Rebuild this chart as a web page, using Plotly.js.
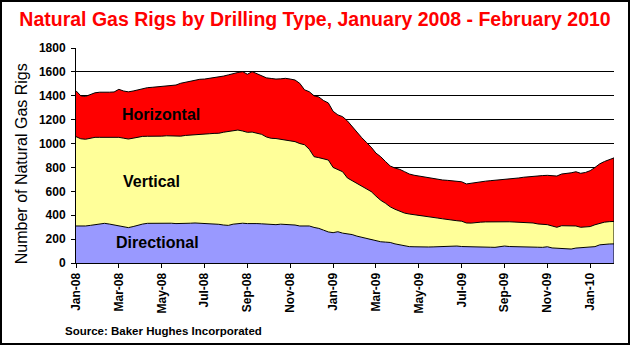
<!DOCTYPE html>
<html>
<head>
<meta charset="utf-8">
<script src="https://cdn.plot.ly/plotly-3.0.1.min.js"></script>
<style>
  html, body { margin: 0; padding: 0; background: #fff; }
  #wrap { position: relative; width: 630px; height: 346px; }
  #chart { position: absolute; left: 0; top: 0; width: 630px; height: 346px; }
  #frame { position: absolute; left: 0; top: 0; width: 630px; height: 345px; box-sizing: border-box; border: 2px solid #000; pointer-events: none; }
</style>
</head>
<body>
<div id="wrap"><div id="chart"></div><div id="frame"></div></div>
<script>
// Weekly rig counts (Baker Hughes), first week Jan 4, 2008
const startDate = "2008-01-04";
const directional = [310,308,310,315,322,330,332,326,318,308,302,296,305,318,326,332,333,330,333,335,
  333,330,333,335,333,335,334,330,328,326,324,318,315,325,332,333,330,333,330,328,
  325,322,321,325,324,320,318,310,308,310,298,290,275,260,254,262,250,244,238,225,
  215,208,198,190,178,175,172,160,151,142,137,136,134,133,134,135,137,136,138,140,
  142,138,136,138,137,135,133,132,131,135,142,138,136,135,133,131,131,132,131,136,
  126,123,121,118,117,125,128,128,130,137,152,157,159,160];
const vertical = [748,732,726,730,730,722,721,724,734,744,743,742,740,737,734,729,727,728,729,730,
  730,730,729,733,739,740,744,750,754,759,762,777,788,785,781,772,764,763,755,749,
  730,722,721,709,706,704,698,690,682,642,592,592,596,602,546,518,514,468,452,440,
  425,412,400,370,347,325,298,290,281,276,273,269,266,262,258,250,239,234,225,218,
  212,212,199,196,204,207,211,213,215,211,204,207,207,207,208,210,204,195,193,185,
  184,176,191,195,194,185,171,173,175,183,182,185,187,188];
const horizontal = [384,360,359,365,373,378,375,380,380,402,395,395,395,395,400,407,411,417,414,415,
  419,430,443,445,453,457,460,460,463,467,469,470,472,478,482,497,486,506,500,488,
  495,501,498,508,516,516,516,504,460,482,510,508,489,478,470,460,461,478,450,435,
  410,390,372,360,365,350,342,345,352,347,335,330,328,325,323,323,322,325,329,332,
  334,330,327,334,337,340,341,344,346,349,352,356,362,370,377,382,391,401,408,413,
  420,429,433,435,444,454,452,457,468,480,496,508,520,532];
const tickLabels = ["Jan-08","Mar-08","May-08","Jul-08","Sep-08","Nov-08","Jan-09",
  "Mar-09","May-09","Jul-09","Sep-09","Nov-09","Jan-10"];
const tickEvery = 9; // weeks between labelled ticks

const weeks = [];
const d0 = new Date(startDate + "T00:00:00Z");
for (let i = 0; i < directional.length; i++) {
  const d = new Date(d0.getTime() + i * 7 * 86400000);
  weeks.push(d.toISOString().slice(0, 10));
}
const tickvals = tickLabels.map((_, k) => weeks[k * tickEvery]);
const last = weeks.length - 1;
const lastTotal = directional[last] + vertical[last] + horizontal[last];

const FONT = "Liberation Sans, Arial, Helvetica, sans-serif";
const lineStyle = { color: "#000", width: 1 };

const traces = [
  { x: weeks, y: directional, name: "Directional", type: "scatter", mode: "lines",
    stackgroup: "rigs", line: lineStyle, fillcolor: "#9999FF", hoverinfo: "skip" },
  { x: weeks, y: vertical, name: "Vertical", type: "scatter", mode: "lines",
    stackgroup: "rigs", line: lineStyle, fillcolor: "#FFFF99", hoverinfo: "skip" },
  { x: weeks, y: horizontal, name: "Horizontal", type: "scatter", mode: "lines",
    stackgroup: "rigs", line: lineStyle, fillcolor: "#FF0000", hoverinfo: "skip" },
  { x: [weeks[last], weeks[last]], y: [0, lastTotal], type: "scatter", mode: "lines",
    line: lineStyle, showlegend: false, hoverinfo: "skip" }
];

const labelFont = { family: FONT, size: 16, color: "#000", weight: "bold" };

const layout = {
  width: 630, height: 346,
  margin: { l: 76, r: 16, t: 48, b: 83 },
  paper_bgcolor: "#fff", plot_bgcolor: "#fff",
  showlegend: false,
  title: { text: "Natural Gas Rigs by Drilling Type, January 2008 - February 2010",
    font: { family: FONT, size: 19.5, color: "#FF0000", weight: "bold" },
    x: 0.5, xanchor: "center", y: 1 - 19 / 346, yanchor: "middle" },
  xaxis: {
    type: "date", range: [weeks[0], weeks[last]],
    tickvals: tickvals, ticktext: tickLabels, tickangle: -90,
    tickfont: { family: FONT, size: 12, color: "#000", weight: "bold" },
    ticks: "outside", ticklen: 4, tickcolor: "#000",
    showline: true, linecolor: "#000", linewidth: 1,
    showgrid: false, zeroline: false, fixedrange: true
  },
  yaxis: {
    range: [0, 1800], dtick: 200, tick0: 0,
    tickfont: { family: FONT, size: 12, color: "#000", weight: "bold" },
    ticks: "outside", ticklen: 4, tickcolor: "#000", ticklabelstandoff: 3,
    showline: true, linecolor: "#000", linewidth: 1,
    showgrid: true, gridcolor: "#000", gridwidth: 1,
    zeroline: false, fixedrange: true, layer: "above traces"
  },
  annotations: [
    { text: "Number of Natural Gas Rigs", xref: "paper", yref: "paper",
      x: -0.102, y: 0.46, textangle: -90, showarrow: false,
      xanchor: "center", yanchor: "middle",
      font: { family: FONT, size: 16, color: "#000" } },
    { text: "Source: Baker Hughes Incorporated", xref: "paper", yref: "paper",
      x: -0.024, y: -0.316, showarrow: false, xanchor: "left", yanchor: "middle",
      font: { family: FONT, size: 11.5, color: "#000", weight: "bold" } },
    { text: "Horizontal", xref: "paper", yref: "paper", x: 0.158, y: 0.693,
      showarrow: false, xanchor: "center", yanchor: "middle", font: labelFont },
    { text: "Vertical", xref: "paper", yref: "paper", x: 0.140, y: 0.378,
      showarrow: false, xanchor: "center", yanchor: "middle", font: labelFont },
    { text: "Directional", xref: "paper", yref: "paper", x: 0.1506, y: 0.096,
      showarrow: false, xanchor: "center", yanchor: "middle", font: labelFont }
  ]
};

Plotly.newPlot("chart", traces, layout, { staticPlot: true, displayModeBar: false });
</script>
</body>
</html>
